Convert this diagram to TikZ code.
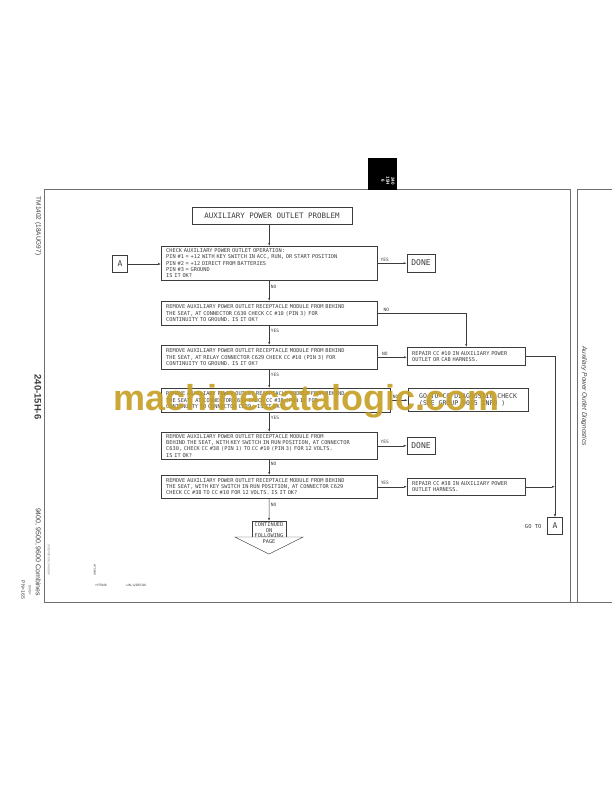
\documentclass[tikz,border=0pt]{standalone}
\usepackage{fontspec}
\setmainfont{Liberation Sans}
\newfontfamily\plotfont{DejaVu Sans Mono}
\usetikzlibrary{positioning,arrows.meta}

\definecolor{inkt}{RGB}{60,60,60}
\definecolor{kader}{RGB}{110,110,110}
\definecolor{goud}{RGB}{198,160,38}

\tikzset{
  stapbox/.style={draw=inkt, line width=0.45pt, anchor=north west, inner xsep=5pt, inner ysep=1pt,
    text width=206pt, align=left, text=inkt, font=\plotfont\fontsize{5.3}{6.3}\selectfont},
  repbox/.style={stapbox, text width=108pt},
  dubbel/.style={draw=inkt, line width=0.55pt, inner sep=1pt, text=inkt,
    font=\plotfont\fontsize{8}{9}\selectfont,
    append after command={\pgfextra{\let\dubbelnode\tikzlastnode}
      [draw=inkt, line width=0.45pt] ([shift={(1.6pt,-1.6pt)}]\dubbelnode.north west)
      rectangle ([shift={(-1.6pt,1.6pt)}]\dubbelnode.south east)}},
  antw/.style={text=inkt, inner sep=1.5pt, font=\plotfont\fontsize{4.5}{5}\selectfont},
  zij/.style={rotate=-90, text=inkt}
}

\begin{document}
\begin{tikzpicture}[x=1pt, y=-1pt, >={Latex[length=3pt,width=2pt]}, line width=0.45pt]
\useasboundingbox (0,0) rectangle (612,792);

% Paginakader
\draw[kader, line width=0.9pt] (44,189) -- (570,189);
\draw[kader, line width=0.9pt] (577,189) -- (612,189);
\draw[kader, line width=0.9pt] (44,189) -- (44,602) -- (612,602);
\draw[kader, line width=0.9pt] (570,189) -- (570,602);
\draw[kader, line width=0.9pt] (577,189) -- (577,602);

% Tab bovenaan
\fill[black] (368,158) rectangle (397,190);
\node[zij, text=white, align=center, font=\bfseries\fontsize{4.5}{5}\selectfont] (tab) at (388,181) {240\\15H\\6};

% Teksten in de marge
\node[zij, font=\fontsize{6.5}{7}\selectfont] (tm) at (38,226) {TM1402 (18AUG97)};
\node[zij, font=\bfseries\fontsize{9.5}{10}\selectfont] (sectie) at (38,397) {240-15H-6};
\node[zij, font=\fontsize{7}{8}\selectfont] (combines) at (38,552) {9400, 9500, 9600 Combines};
\node[zij, text=gray, font=\fontsize{3}{3}\selectfont] (code) at (49,560) {9002400-09-15AUG98};
\node[zij, font=\fontsize{3}{3}\selectfont] (datum) at (30,590) {100197};
\node[zij, font=\fontsize{5}{5}\selectfont] (pn) at (23,590) {PN=165};
\node[zij, font=\fontsize{3}{3}\selectfont] (fig) at (95,570) {H75848};
\node[text=inkt, anchor=west, font=\fontsize{3.2}{3.2}\selectfont] (fignr) at (92,585) {H75848};
\node[text=inkt, anchor=west, font=\fontsize{3.2}{3.2}\selectfont] (figdatum) at (122,585) {-UN-12DEC96};
\node[zij, font=\itshape\fontsize{6.5}{7}\selectfont] (titelzij) at (584,396) {Auxiliary Power Outlet Diagnostics};

% Stappen
\node[dubbel, minimum width=160pt, minimum height=17pt, font=\plotfont\fontsize{7.5}{8}\selectfont] (titel) at (272,216) {AUXILIARY POWER OUTLET PROBLEM};
\node[stapbox, minimum height=34pt] (b1) at (161,246) {CHECK AUXILIARY POWER OUTLET OPERATION:\\PIN \#1 = +12 WITH KEY SWITCH IN ACC, RUN, OR START POSITION\\PIN \#2 = +12 DIRECT FROM BATTERIES\\PIN \#3 = GROUND\\IS IT OK?};
\node[stapbox, minimum height=24pt] (b2) at (161,301) {REMOVE AUXILIARY POWER OUTLET RECEPTACLE MODULE FROM BEHIND\\THE SEAT, AT CONNECTOR C630 CHECK CC \#10 (PIN 3) FOR\\CONTINUITY TO GROUND. IS IT OK?};
\node[stapbox, minimum height=24pt] (b3) at (161,345) {REMOVE AUXILIARY POWER OUTLET RECEPTACLE MODULE FROM BEHIND\\THE SEAT, AT RELAY CONNECTOR C629 CHECK CC \#10 (PIN 3) FOR\\CONTINUITY TO GROUND. IS IT OK?};
\node[stapbox, text width=219pt, minimum height=24pt] (b4) at (161,388) {REMOVE AUXILIARY POWER OUTLET RECEPTACLE MODULE FROM BEHIND\\THE SEAT, AT CONNECTOR C630 CHECK CC \#38 (PIN 1) FOR\\CONTINUITY TO CONNECTOR C629. IS IT OK?};
\node[stapbox, minimum height=27pt] (b5) at (161,432) {REMOVE AUXILIARY POWER OUTLET RECEPTACLE MODULE FROM\\BEHIND THE SEAT, WITH KEY SWITCH IN RUN POSITION, AT CONNECTOR\\C630, CHECK CC \#38 (PIN 1) TO CC \#10 (PIN 3) FOR 12 VOLTS.\\IS IT OK?};
\node[stapbox, minimum height=23pt] (b6) at (161,475) {REMOVE AUXILIARY POWER OUTLET RECEPTACLE MODULE FROM BEHIND\\THE SEAT, WITH KEY SWITCH IN RUN POSITION, AT CONNECTOR C629\\CHECK CC \#38 TO CC \#10 FOR 12 VOLTS. IS IT OK?};

% Uitkomsten rechts
\node[dubbel, minimum width=15pt, minimum height=17pt] (a1) at (120,264) {A};
\node[dubbel, minimum width=28pt, minimum height=18pt] (klaar1) at (421,263) {DONE};
\node[repbox, minimum height=18pt] (rep1) at (407,347) {REPAIR CC \#10 IN AUXILIARY POWER\\OUTLET OR CAB HARNESS.};
\node[dubbel, minimum width=120pt, minimum height=23pt, align=left, font=\plotfont\fontsize{6.5}{7.5}\selectfont] (ganaar) at (468,400) {GO TO CC DIAGNOSTIC CHECK\\(SEE GROUP 9015 INFO )};
\node[dubbel, minimum width=28pt, minimum height=17pt] (klaar2) at (421,446) {DONE};
\node[repbox, minimum height=17pt] (rep2) at (407,478) {REPAIR CC \#38 IN AUXILIARY POWER\\OUTLET HARNESS.};
\node[dubbel, minimum width=15pt, minimum height=17pt] (a2) at (555,526) {A};
\node[antw, left=4pt of a2, font=\plotfont\fontsize{5.5}{6}\selectfont] (gato) {GO TO};

% Vervolg op volgende pagina
\node[text=inkt, align=center, font=\plotfont\fontsize{5.3}{5.8}\selectfont] (vervolg) at (269,533) {CONTINUED\\ON\\FOLLOWING\\PAGE};
\coordinate (vervolgtop) at (269,521);
\draw[inkt] (252,537) -- (252,521) -- (286,521) -- (286,537);
\draw[inkt] (235,537) -- (303,537) -- (269,554) -- cycle;

% Verbindingen
\draw[inkt, ->] (titel.south -| b1.north) -- (b1.north);
\draw[inkt, ->] (a1.east) -- (b1.west |- a1.east);
\draw[inkt, ->] (b1.east) -- node[antw, above, pos=0.25] (ja1) {YES} (b1.east -| klaar1.west);
\draw[inkt, ->] (b1.south) -- node[antw, right, pos=0.3] (nee1) {NO} (b2.north);
\draw[inkt, ->] (b2.east) -- node[antw, above, pos=0.1] (nee2) {NO} (b2.east -| rep1.north) -- (rep1.north);
\draw[inkt, ->] (b2.south) -- node[antw, right, pos=0.3] (ja2) {YES} (b3.north);
\draw[inkt, ->] (b3.east) -- node[antw, above, pos=0.25] (nee3) {NO} (b3.east -| rep1.west);
\draw[inkt, ->] (b3.south) -- node[antw, right, pos=0.3] (ja3) {YES} (b3.south |- b4.north);
\draw[inkt, ->] (b4.east) -- node[antw, above, pos=0.3] (nee4) {NO} (b4.east -| ganaar.west);
\draw[inkt, ->] (b3.south |- b4.south) -- node[antw, right, pos=0.3] (ja4) {YES} (b5.north);
\draw[inkt, ->] (b5.east) -- node[antw, above, pos=0.25] (ja5) {YES} (b5.east -| klaar2.west);
\draw[inkt, ->] (b5.south) -- node[antw, right, pos=0.3] (nee5) {NO} (b6.north);
\draw[inkt, ->] (b6.east) -- node[antw, above, pos=0.25] (ja6) {YES} (b6.east -| rep2.west);
\draw[inkt, ->] (b6.south) -- node[antw, right, pos=0.3] (nee6) {NO} (vervolgtop);
\draw[inkt, ->] (rep1.east) -| (a2.north);
\draw[inkt, ->] (rep2.east) -- (rep2.east -| a2.north);

% Watermerk
\node[text=goud, opacity=0.92, anchor=base west, inner sep=0pt, font=\bfseries\fontsize{36}{36}\selectfont] (watermerk) at (113,410) {machinecatalogic.com};
\end{tikzpicture}
\end{document}
